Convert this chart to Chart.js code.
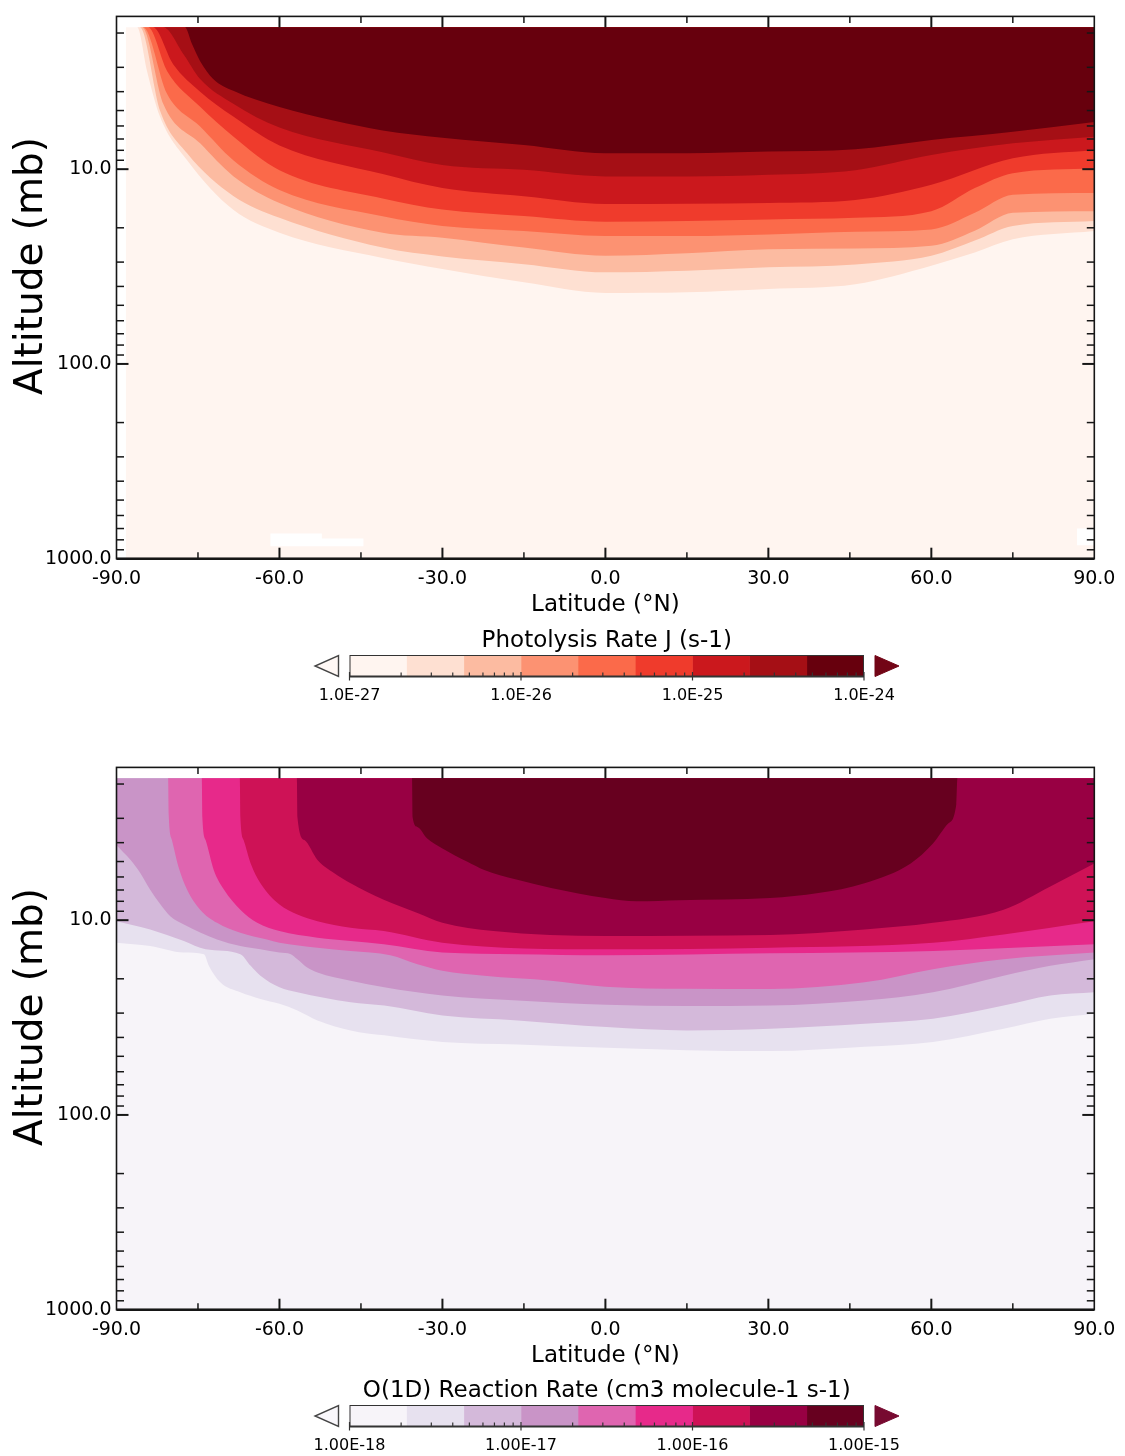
<!DOCTYPE html>
<html><head><meta charset="utf-8">
<script src="https://cdn.jsdelivr.net/npm/chart.js@4.4.1/dist/chart.umd.min.js"></script>
<style>
html,body{margin:0;padding:0;background:#fff;}
#wrap{position:relative;width:1125px;height:1456px;overflow:hidden;background:#fff;}
canvas{position:absolute;left:0;}
</style></head><body>
<div id="wrap">
<canvas id="c1" width="1125" height="625" style="top:0px"></canvas>
<canvas id="cb1" width="1125" height="90" style="top:620px"></canvas>
<canvas id="c2" width="1125" height="625" style="top:751px"></canvas>
<canvas id="cb2" width="1125" height="86" style="top:1370px"></canvas>
</div>
<script>
// ---------------- data ----------------
const P_TOP = 1.87;          // top model level (mb)
const P_BOT = 1000;          // bottom model level (mb)
const Y_MIN = 1.643, Y_MAX = 1000;

const xMajorTicks = [-60, -30, 0, 30, 60];
const xMinorTicks = [-75, -45, -15, 15, 45, 75];
const yLabelTicks = [10, 100, 1000];
const yMajorTicks = [10, 100];
const yMinorTicks = [2,3,4,5,6,7,8,9,20,30,40,50,60,70,80,90,200,300,400,500,600,700,800,900];

// Photolysis rate J: contour boundaries [lat, pressure] (lower edge of each level)
const jBackground = [[-88.3, P_BOT], [90, P_BOT]];
const jB1 = [[-88.3,1.87],[-86.2,1.87],[-84.4,3.12],[-82.0,5.37],[-77.0,9.00],[-68.5,16.18],[-60,21.19],[-41,28.58],[-30,32.58],[-15,38.09],[0,43.19],[15,42.83],[30,41.20],[46,38.99],[60,31.31],[68,26.79],[75,22.92],[90,20.77]];
const jB2 = [[-88.3,1.87],[-85.7,1.87],[-82.0,5.00],[-77.0,8.29],[-68.5,13.73],[-60,17.77],[-41,25.27],[-30,28.08],[-15,30.73],[0,33.87],[15,33.19],[30,31.93],[46,30.83],[60,27.85],[68,23.27],[75,19.58],[90,18.47]];
const jB3 = [[-88.3,1.87],[-85.3,1.87],[-81.4,4.61],[-74.6,7.37],[-68.5,10.86],[-60,14.90],[-41,21.19],[-30,22.47],[-15,25.27],[0,27.85],[15,27.02],[30,25.77],[46,25.57],[60,24.76],[68,20.70],[75,16.75],[90,16.43]];
const jB4 = [[-88.3,1.87],[-85.1,1.87],[-80.7,4.10],[-74.6,6.04],[-68.5,9.00],[-60,12.80],[-41,17.46],[-30,19.58],[-15,20.77],[0,22.03],[15,22.03],[30,21.62],[46,20.94],[60,20.38],[68,16.75],[75,13.52],[90,13.25]];
const jB5 = [[-88.3,1.87],[-84.2,1.87],[-80.7,3.13],[-74.6,4.78],[-68.5,6.79],[-60,10.12],[-41,14.14],[-30,16.12],[-15,17.42],[0,18.62],[15,18.47],[30,18.13],[46,17.77],[60,16.43],[68,12.50],[75,10.48],[90,9.88]];
const jB6 = [[-88.3,1.87],[-83.3,1.87],[-79.6,2.88],[-74.6,4.00],[-68.5,5.37],[-60,7.55],[-41,10.60],[-30,12.50],[-15,13.78],[0,15.08],[15,15.03],[30,14.90],[46,14.38],[60,12.02],[75,8.79],[90,7.97]];
const jB7 = [[-88.3,1.87],[-81.4,1.87],[-77.7,2.56],[-74.6,3.44],[-68.5,4.61],[-60,6.11],[-41,8.19],[-30,9.51],[-15,10.08],[0,10.89],[15,10.89],[30,10.69],[46,10.12],[60,8.46],[75,7.37],[90,6.81]];
const jB8 = [[-88.3,1.87],[-77.4,1.87],[-76.1,2.28],[-74.6,2.79],[-72.2,3.44],[-68.5,3.96],[-60,4.79],[-50.1,5.63],[-41,6.33],[-30,6.90],[-15,7.52],[0,8.29],[15,8.29],[30,8.12],[46,7.91],[60,7.09],[75,6.43],[90,5.72]];
// regions below the lowest level (white)
const jGap1Top = [[-61.7,743],[-52.2,743],[-52.2,788],[-44.5,788]];
const jGap1Bottom = 862;
const jGap2Top = [[86.8,699],[90,699]];
const jGap2Bottom = 852;

// O(1D) reaction rate: contour boundaries [lat, pressure]
const oBackground = [[-90, P_BOT], [90, P_BOT]];
const oB1 = [[-90,13.05],[-83.8,13.57],[-77.6,14.67],[-73.9,14.95],[-73.0,17.16],[-70.9,20.86],[-67.2,23.46],[-63.5,25.37],[-60,26.90],[-56.7,29.09],[-53,32.71],[-46.9,36.8],[-40.7,39.04],[-30,42.17],[-16.1,43.51],[0.2,45.24],[15,46.5],[30.3,47.03],[47.7,44.69],[60.3,42.17],[73.3,36.07],[81.9,32.08],[90,30.25]];
const oB2 = [[-90,10.12],[-83.8,11.16],[-77.6,12.80],[-73.6,14.11],[-67.2,14.95],[-65.3,17.16],[-63.5,19.29],[-60,22.13],[-56.7,23.46],[-46.9,26.38],[-40.7,27.44],[-30,30.85],[-16.1,32.71],[0.2,35.38],[15,36.8],[30.3,36.07],[47.7,33.98],[60.3,32.08],[73.3,27.44],[81.9,24.39],[90,23.46]];
const oB3 = [[-90,4.12],[-87.4,4.91],[-85.6,5.74],[-83.8,6.98],[-81.9,8.32],[-80.1,9.54],[-77.6,10.52],[-74.5,11.60],[-71.5,12.55],[-67.2,13.57],[-63.5,14.11],[-60,14.67],[-57.9,14.95],[-56.7,15.87],[-54.9,17.50],[-53,18.56],[-46.9,20.46],[-40.7,22.13],[-30,24.39],[-16.1,25.86],[0.2,27.22],[15,27.6],[30.3,27.44],[47.7,25.86],[60.3,23.46],[73.3,19.29],[81.9,17.16],[90,15.87]];
const oB4 = [[-90,1.87],[-80.5,1.87],[-80.4,2.84],[-79.8,3.88],[-78.6,5.32],[-77.0,6.98],[-74.6,8.83],[-71.5,10.32],[-67.2,11.6],[-62.3,12.56],[-60,13.05],[-53,13.84],[-46.9,14.39],[-39.6,15.14],[-34.6,16.82],[-30,18.18],[-22.3,19.29],[-10,20.44],[0,21.96],[15,22.5],[30.3,22.56],[47.7,20.86],[60.3,17.85],[73.3,15.87],[90,14.67]];
const oB5 = [[-90,1.87],[-74.3,1.87],[-74.2,2.95],[-73.6,3.88],[-72.1,5.52],[-70.2,6.98],[-67.2,8.83],[-64.1,10.32],[-60,11.38],[-53,12.31],[-46.9,12.80],[-40.8,13.31],[-30,14.67],[-16.2,14.95],[0.2,15.14],[30.3,14.8],[60.3,14.39],[90,13.31]];
const oB6 = [[-90,1.87],[-67.3,1.87],[-67.2,2.95],[-66.6,3.88],[-65.3,5.11],[-63.5,6.46],[-60,8.32],[-56.7,9.36],[-53,10.12],[-46.9,10.94],[-40.8,11.38],[-30,13.05],[0.2,14.11],[30.3,13.84],[60.3,13.05],[73.3,11.83],[90,10.12]];
const oB7 = [[-90,1.87],[-56.8,1.87],[-56.7,2.95],[-55.4,3.88],[-53,4.91],[-49.9,5.74],[-46.9,6.46],[-40.8,7.85],[-34.6,9.18],[-30,10.32],[-20.6,11.38],[0.2,12.07],[30.3,11.93],[47.7,11.16],[60.3,10.32],[73.3,8.83],[81.9,6.71],[90,5.11]];
const oB8 = [[-90,1.87],[-35.6,1.87],[-35.5,2.95],[-34.6,3.32],[-32.8,3.81],[-30,4.28],[-25.4,5.01],[-22.3,5.52],[-16.2,6.21],[-10,6.84],[0,7.70],[5.8,8.0],[13.5,7.9],[30.3,7.70],[39.2,7.26],[47.7,6.46],[56.2,5.11],[60.3,4.04],[63.1,3.19],[64.6,2.53],[64.8,1.87],[90,1.87]];

// colour bar levels
const jLevels = [1e-27, 2.15e-27, 4.64e-27, 1e-26, 2.15e-26, 4.64e-26, 1e-25, 2.15e-25, 4.64e-25, 1e-24];
const jCbarTicks = [1e-27, 1e-26, 1e-25, 1e-24];
const oLevels = [1e-18, 2.15e-18, 4.64e-18, 1e-17, 2.15e-17, 4.64e-17, 1e-16, 2.15e-16, 4.64e-16, 1e-15];
const oCbarTicks = [1e-18, 1e-17, 1e-16, 1e-15];

const redsColors = ['#fff5f0','#fee0d2','#fcbba1','#fc9272','#fb6a4a','#ef3b2c','#cb181d','#a50f15','#67000d'];
const purdColors = ['#f7f4f9','#e7e1ef','#d4b9da','#c994c7','#df65b0','#e7298a','#ce1256','#980043','#67001f'];

// ---------------- rendering ----------------
Chart.defaults.font.family = "'DejaVu Sans', 'Liberation Sans', sans-serif";
Chart.defaults.color = '#000';
const INK = '#161616';

const framePlugin = {
  id: 'frame',
  afterDraw(chart, args, opts) {
    const {ctx, chartArea: a, scales: {x, y}} = chart;
    ctx.save();
    ctx.strokeStyle = INK;
    const seg = (x1, y1, x2, y2) => { ctx.beginPath(); ctx.moveTo(x1, y1); ctx.lineTo(x2, y2); ctx.stroke(); };
    ctx.lineWidth = 1.5;
    xMinorTicks.forEach(v => { const p = x.getPixelForValue(v); seg(p, a.top, p, a.top + 6.5); seg(p, a.bottom, p, a.bottom - 6.5); });
    yMinorTicks.forEach(v => { const p = y.getPixelForValue(v); seg(a.left, p, a.left + 7.5, p); seg(a.right, p, a.right - 7.5, p); });
    ctx.lineWidth = 2;
    xMajorTicks.forEach(v => { const p = x.getPixelForValue(v); seg(p, a.top, p, a.top + 11); seg(p, a.bottom, p, a.bottom - 11); });
    yMajorTicks.forEach(v => { const p = y.getPixelForValue(v); seg(a.left, p, a.left + 12, p); seg(a.right, p, a.right - 12, p); });
    ctx.lineWidth = 1.6;
    ctx.strokeRect(a.left, a.top, a.right - a.left, a.bottom - a.top);
    ctx.lineWidth = 2.6;
    seg(a.left, a.bottom, a.right, a.bottom);
    // vertical axis title
    ctx.fillStyle = '#000';
    ctx.font = "39px 'DejaVu Sans', sans-serif";
    ctx.textAlign = 'center';
    ctx.textBaseline = 'middle';
    ctx.translate(opts.tx, opts.ty);
    ctx.rotate(-Math.PI / 2);
    ctx.fillText(opts.title, 0, 0);
    ctx.restore();
  }
};

function contourChart(id, background, bounds, colors, gaps) {
  const base = {type: 'line', borderWidth: 0, borderColor: 'rgba(0,0,0,0)', pointRadius: 0, pointHoverRadius: 0, tension: 0};
  const datasets = [Object.assign({}, base, {data: background, backgroundColor: colors[0], fill: {value: P_TOP}, order: 50})];
  bounds.forEach((b, i) => datasets.push(Object.assign({}, base, {data: b, backgroundColor: colors[i + 1], fill: {value: P_TOP}, order: 40 - i, cubicInterpolationMode: 'monotone'})));
  gaps.forEach(g => datasets.push(Object.assign({}, base, {data: g[0], backgroundColor: '#ffffff', fill: {value: g[1]}, order: 1})));
  return new Chart(document.getElementById(id), {
    type: 'line',
    data: {datasets},
    options: {
      responsive: false, animation: false, devicePixelRatio: 1, events: [],
      layout: {padding: {top: 12, left: 0, right: 30.7, bottom: 0}},
      plugins: {legend: {display: false}, tooltip: {enabled: false},
        frame: {title: 'Altitude (mb)', tx: 32, ty: 266}},
      scales: {
        x: {
          type: 'linear', min: -90, max: 90, z: 1,
          ticks: {stepSize: 30, padding: 9, font: {size: 19}, callback: v => Number(v).toFixed(1), maxRotation: 0},
          grid: {drawTicks: false, lineWidth: 1, color: c => (c.tick && xMajorTicks.includes(c.tick.value)) ? INK : 'rgba(0,0,0,0)'},
          border: {display: false},
          title: {display: true, text: 'Latitude (°N)', font: {size: 23}, padding: {top: 0, bottom: 6.2}},
          afterFit: s => { s.height = 66.3; }
        },
        y: {
          type: 'logarithmic', reverse: true, min: Y_MIN, max: Y_MAX, z: 1,
          afterBuildTicks: s => { s.ticks = yLabelTicks.map(v => ({value: v})); },
          ticks: {padding: 5, font: {size: 19}, callback: v => Number(v).toFixed(1)},
          grid: {drawTicks: false, lineWidth: 1, color: c => (c.tick && yMajorTicks.includes(c.tick.value)) ? INK : 'rgba(0,0,0,0)'},
          border: {display: false},
          afterFit: s => { s.width = 116.5; }
        }
      }
    },
    plugins: [framePlugin]
  });
}

const cbarPlugin = {
  id: 'cbar',
  afterDraw(chart, args, opts) {
    const {ctx, chartArea: a, scales: {x}} = chart;
    ctx.save();
    const seg = (x1, y1, x2, y2) => { ctx.beginPath(); ctx.moveTo(x1, y1); ctx.lineTo(x2, y2); ctx.stroke(); };
    ctx.strokeStyle = '#333';
    ctx.lineWidth = 1;
    ctx.strokeRect(a.left + 0.5, a.top + 0.5, a.right - a.left - 1, a.bottom - a.top - 1);
    ctx.lineWidth = 2;
    seg(a.left, a.bottom - 0.5, a.right, a.bottom - 0.5);
    ctx.lineWidth = 1.2;
    const dec = opts.ticks;
    for (let i = 0; i < dec.length - 1; i++) {
      for (let m = 2; m <= 9; m++) { const p = x.getPixelForValue(m * dec[i]); seg(p, a.bottom, p, a.bottom - 4.5); }
    }
    dec.forEach(v => { const p = x.getPixelForValue(v); seg(p, a.bottom - 5, p, a.bottom + 3.5); });
    const mid = (a.top + a.bottom) / 2;
    // under-range triangle
    ctx.beginPath(); ctx.moveTo(a.left - 11, a.top + 0.5); ctx.lineTo(a.left - 11, a.bottom - 0.5); ctx.lineTo(a.left - 34.5, mid); ctx.closePath();
    ctx.fillStyle = opts.under; ctx.fill(); ctx.strokeStyle = '#444'; ctx.lineWidth = 1.4; ctx.stroke();
    // over-range triangle
    ctx.beginPath(); ctx.moveTo(a.right + 11, a.top + 0.5); ctx.lineTo(a.right + 11, a.bottom - 0.5); ctx.lineTo(a.right + 35, mid); ctx.closePath();
    ctx.fillStyle = opts.over; ctx.fill(); ctx.strokeStyle = opts.over; ctx.lineWidth = 1; ctx.stroke();
    ctx.restore();
  }
};

function colorbar(id, levels, colors, ticks, digits, title, under, over, h) {
  const datasets = colors.map((c, i) => ({data: [[levels[i], levels[i + 1]]], backgroundColor: c, borderWidth: 0, grouped: false, barPercentage: 1, categoryPercentage: 1}));
  return new Chart(document.getElementById(id), {
    type: 'bar',
    data: {labels: ['bar'], datasets},
    options: {
      indexAxis: 'y', responsive: false, animation: false, devicePixelRatio: 1, events: [],
      layout: {padding: {top: 0, left: 349.5, right: 261, bottom: 0}},
      plugins: {legend: {display: false}, tooltip: {enabled: false},
        title: {display: true, text: title, font: {size: 23, weight: 'normal'}, color: '#000', padding: {top: 7.4, bottom: 0}},
        cbar: {ticks, under, over}},
      scales: {
        x: {
          type: 'logarithmic', min: levels[0], max: levels[levels.length - 1], position: 'bottom',
          afterBuildTicks: s => { s.ticks = ticks.map(v => ({value: v})); },
          ticks: {padding: 9.5, font: {size: 16}, maxRotation: 0, autoSkip: false, callback: v => Number(v).toExponential(digits).toUpperCase()},
          grid: {display: false, drawTicks: false}, border: {display: false},
          afterFit: s => { s.height = h - 57; }
        },
        y: {type: 'category', display: false}
      }
    },
    plugins: [cbarPlugin]
  });
}

contourChart('c1', jBackground, [jB1, jB2, jB3, jB4, jB5, jB6, jB7, jB8], redsColors, [[jGap1Top, jGap1Bottom], [jGap2Top, jGap2Bottom]]);
colorbar('cb1', jLevels, redsColors, jCbarTicks, 1, 'Photolysis Rate J (s-1)', '#fff8f5', '#720516', 90);
contourChart('c2', oBackground, [oB1, oB2, oB3, oB4, oB5, oB6, oB7, oB8], purdColors, []);
colorbar('cb2', oLevels, purdColors, oCbarTicks, 2, 'O(1D) Reaction Rate (cm3 molecule-1 s-1)', '#f9f7fb', '#770a30', 86);
</script>
</body></html>
